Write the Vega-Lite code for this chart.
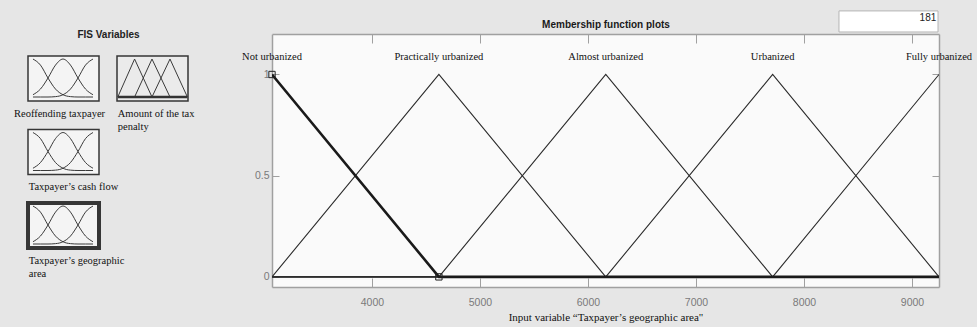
{
  "$schema": "https://vega.github.io/schema/vega-lite/v6.json",
  "background": "#e6e6e6",
  "padding": {"left": 13, "top": 10, "right": 30, "bottom": 10},
  "bounds": "flush",
  "spacing": 244,
  "config": {"view": {"stroke": null}},
  "datasets": {
    "icons": [
      {"icon": "Reoffending taxpayer", "r": 1, "c": 1, "mf": "a", "x": 0, "y": 1}, {"icon": "Reoffending taxpayer", "r": 1, "c": 1, "mf": "a", "x": 0.125, "y": 0.84}, {"icon": "Reoffending taxpayer", "r": 1, "c": 1, "mf": "a", "x": 0.25, "y": 0.5}, {"icon": "Reoffending taxpayer", "r": 1, "c": 1, "mf": "a", "x": 0.375, "y": 0.21}, {"icon": "Reoffending taxpayer", "r": 1, "c": 1, "mf": "a", "x": 0.5, "y": 0.06}, {"icon": "Reoffending taxpayer", "r": 1, "c": 1, "mf": "a", "x": 0.625, "y": 0.01}, {"icon": "Reoffending taxpayer", "r": 1, "c": 1, "mf": "a", "x": 0.75, "y": 0}, {"icon": "Reoffending taxpayer", "r": 1, "c": 1, "mf": "a", "x": 0.875, "y": 0}, {"icon": "Reoffending taxpayer", "r": 1, "c": 1, "mf": "a", "x": 1, "y": 0},
      {"icon": "Reoffending taxpayer", "r": 1, "c": 1, "mf": "b", "x": 0, "y": 0.06}, {"icon": "Reoffending taxpayer", "r": 1, "c": 1, "mf": "b", "x": 0.125, "y": 0.21}, {"icon": "Reoffending taxpayer", "r": 1, "c": 1, "mf": "b", "x": 0.25, "y": 0.5}, {"icon": "Reoffending taxpayer", "r": 1, "c": 1, "mf": "b", "x": 0.375, "y": 0.84}, {"icon": "Reoffending taxpayer", "r": 1, "c": 1, "mf": "b", "x": 0.5, "y": 1}, {"icon": "Reoffending taxpayer", "r": 1, "c": 1, "mf": "b", "x": 0.625, "y": 0.84}, {"icon": "Reoffending taxpayer", "r": 1, "c": 1, "mf": "b", "x": 0.75, "y": 0.5}, {"icon": "Reoffending taxpayer", "r": 1, "c": 1, "mf": "b", "x": 0.875, "y": 0.21}, {"icon": "Reoffending taxpayer", "r": 1, "c": 1, "mf": "b", "x": 1, "y": 0.06},
      {"icon": "Reoffending taxpayer", "r": 1, "c": 1, "mf": "c", "x": 0, "y": 0}, {"icon": "Reoffending taxpayer", "r": 1, "c": 1, "mf": "c", "x": 0.125, "y": 0}, {"icon": "Reoffending taxpayer", "r": 1, "c": 1, "mf": "c", "x": 0.25, "y": 0}, {"icon": "Reoffending taxpayer", "r": 1, "c": 1, "mf": "c", "x": 0.375, "y": 0.01}, {"icon": "Reoffending taxpayer", "r": 1, "c": 1, "mf": "c", "x": 0.5, "y": 0.06}, {"icon": "Reoffending taxpayer", "r": 1, "c": 1, "mf": "c", "x": 0.625, "y": 0.21}, {"icon": "Reoffending taxpayer", "r": 1, "c": 1, "mf": "c", "x": 0.75, "y": 0.5}, {"icon": "Reoffending taxpayer", "r": 1, "c": 1, "mf": "c", "x": 0.875, "y": 0.84}, {"icon": "Reoffending taxpayer", "r": 1, "c": 1, "mf": "c", "x": 1, "y": 1},
      {"icon": "Amount of the tax\npenalty", "r": 1, "c": 2, "mf": "t1", "x": -0.07, "y": 0}, {"icon": "Amount of the tax\npenalty", "r": 1, "c": 2, "mf": "t1", "x": 0.21, "y": 1}, {"icon": "Amount of the tax\npenalty", "r": 1, "c": 2, "mf": "t1", "x": 0.5, "y": 0},
      {"icon": "Amount of the tax\npenalty", "r": 1, "c": 2, "mf": "t2", "x": 0.21, "y": 0}, {"icon": "Amount of the tax\npenalty", "r": 1, "c": 2, "mf": "t2", "x": 0.5, "y": 1}, {"icon": "Amount of the tax\npenalty", "r": 1, "c": 2, "mf": "t2", "x": 0.8, "y": 0},
      {"icon": "Amount of the tax\npenalty", "r": 1, "c": 2, "mf": "t3", "x": 0.5, "y": 0}, {"icon": "Amount of the tax\npenalty", "r": 1, "c": 2, "mf": "t3", "x": 0.8, "y": 1}, {"icon": "Amount of the tax\npenalty", "r": 1, "c": 2, "mf": "t3", "x": 1.09, "y": 0},
      {"icon": "Amount of the tax\npenalty", "r": 1, "c": 2, "mf": "base", "x": -0.07, "y": 0}, {"icon": "Amount of the tax\npenalty", "r": 1, "c": 2, "mf": "base", "x": 1.09, "y": 0},
      {"icon": "Taxpayer’s cash flow", "r": 2, "c": 1, "mf": "a", "x": 0, "y": 1}, {"icon": "Taxpayer’s cash flow", "r": 2, "c": 1, "mf": "a", "x": 0.125, "y": 0.84}, {"icon": "Taxpayer’s cash flow", "r": 2, "c": 1, "mf": "a", "x": 0.25, "y": 0.5}, {"icon": "Taxpayer’s cash flow", "r": 2, "c": 1, "mf": "a", "x": 0.375, "y": 0.21}, {"icon": "Taxpayer’s cash flow", "r": 2, "c": 1, "mf": "a", "x": 0.5, "y": 0.06}, {"icon": "Taxpayer’s cash flow", "r": 2, "c": 1, "mf": "a", "x": 0.625, "y": 0.01}, {"icon": "Taxpayer’s cash flow", "r": 2, "c": 1, "mf": "a", "x": 0.75, "y": 0}, {"icon": "Taxpayer’s cash flow", "r": 2, "c": 1, "mf": "a", "x": 0.875, "y": 0}, {"icon": "Taxpayer’s cash flow", "r": 2, "c": 1, "mf": "a", "x": 1, "y": 0},
      {"icon": "Taxpayer’s cash flow", "r": 2, "c": 1, "mf": "b", "x": 0, "y": 0.06}, {"icon": "Taxpayer’s cash flow", "r": 2, "c": 1, "mf": "b", "x": 0.125, "y": 0.21}, {"icon": "Taxpayer’s cash flow", "r": 2, "c": 1, "mf": "b", "x": 0.25, "y": 0.5}, {"icon": "Taxpayer’s cash flow", "r": 2, "c": 1, "mf": "b", "x": 0.375, "y": 0.84}, {"icon": "Taxpayer’s cash flow", "r": 2, "c": 1, "mf": "b", "x": 0.5, "y": 1}, {"icon": "Taxpayer’s cash flow", "r": 2, "c": 1, "mf": "b", "x": 0.625, "y": 0.84}, {"icon": "Taxpayer’s cash flow", "r": 2, "c": 1, "mf": "b", "x": 0.75, "y": 0.5}, {"icon": "Taxpayer’s cash flow", "r": 2, "c": 1, "mf": "b", "x": 0.875, "y": 0.21}, {"icon": "Taxpayer’s cash flow", "r": 2, "c": 1, "mf": "b", "x": 1, "y": 0.06},
      {"icon": "Taxpayer’s cash flow", "r": 2, "c": 1, "mf": "c", "x": 0, "y": 0}, {"icon": "Taxpayer’s cash flow", "r": 2, "c": 1, "mf": "c", "x": 0.125, "y": 0}, {"icon": "Taxpayer’s cash flow", "r": 2, "c": 1, "mf": "c", "x": 0.25, "y": 0}, {"icon": "Taxpayer’s cash flow", "r": 2, "c": 1, "mf": "c", "x": 0.375, "y": 0.01}, {"icon": "Taxpayer’s cash flow", "r": 2, "c": 1, "mf": "c", "x": 0.5, "y": 0.06}, {"icon": "Taxpayer’s cash flow", "r": 2, "c": 1, "mf": "c", "x": 0.625, "y": 0.21}, {"icon": "Taxpayer’s cash flow", "r": 2, "c": 1, "mf": "c", "x": 0.75, "y": 0.5}, {"icon": "Taxpayer’s cash flow", "r": 2, "c": 1, "mf": "c", "x": 0.875, "y": 0.84}, {"icon": "Taxpayer’s cash flow", "r": 2, "c": 1, "mf": "c", "x": 1, "y": 1},
      {"icon": "Taxpayer’s geographic\narea", "r": 3, "c": 1, "mf": "a", "x": 0, "y": 1}, {"icon": "Taxpayer’s geographic\narea", "r": 3, "c": 1, "mf": "a", "x": 0.125, "y": 0.84}, {"icon": "Taxpayer’s geographic\narea", "r": 3, "c": 1, "mf": "a", "x": 0.25, "y": 0.5}, {"icon": "Taxpayer’s geographic\narea", "r": 3, "c": 1, "mf": "a", "x": 0.375, "y": 0.21}, {"icon": "Taxpayer’s geographic\narea", "r": 3, "c": 1, "mf": "a", "x": 0.5, "y": 0.06}, {"icon": "Taxpayer’s geographic\narea", "r": 3, "c": 1, "mf": "a", "x": 0.625, "y": 0.01}, {"icon": "Taxpayer’s geographic\narea", "r": 3, "c": 1, "mf": "a", "x": 0.75, "y": 0}, {"icon": "Taxpayer’s geographic\narea", "r": 3, "c": 1, "mf": "a", "x": 0.875, "y": 0}, {"icon": "Taxpayer’s geographic\narea", "r": 3, "c": 1, "mf": "a", "x": 1, "y": 0},
      {"icon": "Taxpayer’s geographic\narea", "r": 3, "c": 1, "mf": "b", "x": 0, "y": 0.06}, {"icon": "Taxpayer’s geographic\narea", "r": 3, "c": 1, "mf": "b", "x": 0.125, "y": 0.21}, {"icon": "Taxpayer’s geographic\narea", "r": 3, "c": 1, "mf": "b", "x": 0.25, "y": 0.5}, {"icon": "Taxpayer’s geographic\narea", "r": 3, "c": 1, "mf": "b", "x": 0.375, "y": 0.84}, {"icon": "Taxpayer’s geographic\narea", "r": 3, "c": 1, "mf": "b", "x": 0.5, "y": 1}, {"icon": "Taxpayer’s geographic\narea", "r": 3, "c": 1, "mf": "b", "x": 0.625, "y": 0.84}, {"icon": "Taxpayer’s geographic\narea", "r": 3, "c": 1, "mf": "b", "x": 0.75, "y": 0.5}, {"icon": "Taxpayer’s geographic\narea", "r": 3, "c": 1, "mf": "b", "x": 0.875, "y": 0.21}, {"icon": "Taxpayer’s geographic\narea", "r": 3, "c": 1, "mf": "b", "x": 1, "y": 0.06},
      {"icon": "Taxpayer’s geographic\narea", "r": 3, "c": 1, "mf": "c", "x": 0, "y": 0}, {"icon": "Taxpayer’s geographic\narea", "r": 3, "c": 1, "mf": "c", "x": 0.125, "y": 0}, {"icon": "Taxpayer’s geographic\narea", "r": 3, "c": 1, "mf": "c", "x": 0.25, "y": 0}, {"icon": "Taxpayer’s geographic\narea", "r": 3, "c": 1, "mf": "c", "x": 0.375, "y": 0.01}, {"icon": "Taxpayer’s geographic\narea", "r": 3, "c": 1, "mf": "c", "x": 0.5, "y": 0.06}, {"icon": "Taxpayer’s geographic\narea", "r": 3, "c": 1, "mf": "c", "x": 0.625, "y": 0.21}, {"icon": "Taxpayer’s geographic\narea", "r": 3, "c": 1, "mf": "c", "x": 0.75, "y": 0.5}, {"icon": "Taxpayer’s geographic\narea", "r": 3, "c": 1, "mf": "c", "x": 0.875, "y": 0.84}, {"icon": "Taxpayer’s geographic\narea", "r": 3, "c": 1, "mf": "c", "x": 1, "y": 1}
    ],
    "mfs": [
      {"mf": "Not urbanized", "x": 3075, "y": 1}, {"mf": "Not urbanized", "x": 4620, "y": 0}, {"mf": "Not urbanized", "x": 9250, "y": 0},
      {"mf": "Practically urbanized", "x": 3075, "y": 0}, {"mf": "Practically urbanized", "x": 4620, "y": 1}, {"mf": "Practically urbanized", "x": 6165, "y": 0}, {"mf": "Practically urbanized", "x": 9250, "y": 0},
      {"mf": "Almost urbanized", "x": 3075, "y": 0}, {"mf": "Almost urbanized", "x": 4620, "y": 0}, {"mf": "Almost urbanized", "x": 6165, "y": 1}, {"mf": "Almost urbanized", "x": 7710, "y": 0}, {"mf": "Almost urbanized", "x": 9250, "y": 0},
      {"mf": "Urbanized", "x": 3075, "y": 0}, {"mf": "Urbanized", "x": 6165, "y": 0}, {"mf": "Urbanized", "x": 7710, "y": 1}, {"mf": "Urbanized", "x": 9250, "y": 0},
      {"mf": "Fully urbanized", "x": 3075, "y": 0}, {"mf": "Fully urbanized", "x": 7710, "y": 0}, {"mf": "Fully urbanized", "x": 9250, "y": 1}
    ],
    "labels": [
      {"label": "Not urbanized", "x": 3075},
      {"label": "Practically urbanized", "x": 4620},
      {"label": "Almost urbanized", "x": 6165},
      {"label": "Urbanized", "x": 7710},
      {"label": "Fully urbanized", "x": 9250}
    ]
  },
  "hconcat": [
    {
      "bounds": "flush",
      "spacing": 10,
      "vconcat": [
        {
          "width": 161, "height": 12,
          "data": {"values": [{"t": "FIS Variables"}]},
          "mark": {"type": "text", "font": "Liberation Sans", "fontWeight": "bold", "fontSize": 10, "color": "#222222", "baseline": "bottom", "align": "center"},
          "encoding": {"text": {"field": "t"}}
        },
        {
          "data": {"name": "icons"},
          "bounds": "flush",
          "spacing": {"row": 28.5, "column": 18},
          "facet": {
            "row": {"field": "r", "type": "ordinal", "header": null},
            "column": {"field": "c", "type": "ordinal", "header": null}
          },
          "spec": {
            "width": 71, "height": 45,
            "layer": [
              {
                "transform": [{"aggregate": [{"op": "count", "as": "n"}], "groupby": ["icon", "r", "c"]}],
                "mark": {"type": "rect", "stroke": "#363636"},
                "encoding": {
                  "x": {"datum": -0.083, "type": "quantitative", "scale": {"domain": [-0.083, 1.1], "nice": false, "zero": false}, "axis": null},
                  "x2": {"datum": 1.1},
                  "y": {"datum": -0.105, "type": "quantitative", "scale": {"domain": [-0.105, 1.08], "nice": false, "zero": false}, "axis": null},
                  "y2": {"datum": 1.08},
                  "fill": {"condition": {"test": "datum.c == 2", "value": "#ebebeb"}, "value": "#f4f4f4"},
                  "strokeWidth": {"condition": {"test": "datum.r == 3", "value": 4}, "value": 1.5}
                }
              },
              {
                "transform": [{"filter": "datum.c == 1"}],
                "mark": {"type": "line", "interpolate": "monotone", "color": "#3a3a3a", "strokeWidth": 1},
                "encoding": {
                  "x": {"field": "x", "type": "quantitative", "axis": null},
                  "y": {"field": "y", "type": "quantitative", "axis": null},
                  "detail": {"field": "mf"}
                }
              },
              {
                "transform": [{"filter": "datum.c == 2 && datum.mf != 'base'"}],
                "mark": {"type": "line", "color": "#3a3a3a", "strokeWidth": 1},
                "encoding": {
                  "x": {"field": "x", "type": "quantitative", "axis": null},
                  "y": {"field": "y", "type": "quantitative", "axis": null},
                  "detail": {"field": "mf"}
                }
              },
              {
                "transform": [{"filter": "datum.mf == 'base'"}],
                "mark": {"type": "line", "color": "#333333", "strokeWidth": 2.5},
                "encoding": {
                  "x": {"field": "x", "type": "quantitative", "axis": null},
                  "y": {"field": "y", "type": "quantitative", "axis": null}
                }
              },
              {
                "transform": [{"filter": "datum.r == 1 && datum.c == 1"}, {"aggregate": [{"op": "count", "as": "n"}], "groupby": ["icon", "r", "c"]}],
                "mark": {"type": "text", "font": "Liberation Serif", "fontSize": 10.5, "color": "#111111", "baseline": "top", "align": "center", "dx": -4, "lineBreak": "\n", "lineHeight": 13},
                "encoding": {
                  "y": {"datum": -0.31, "type": "quantitative", "axis": null},
                  "text": {"field": "icon"}
                }
              },
              {
                "transform": [{"filter": "!(datum.r == 1 && datum.c == 1)"}, {"aggregate": [{"op": "count", "as": "n"}], "groupby": ["icon", "r", "c"]}],
                "mark": {"type": "text", "font": "Liberation Serif", "fontSize": 10.5, "color": "#111111", "baseline": "top", "align": "left", "lineBreak": "\n", "lineHeight": 13},
                "encoding": {
                  "x": {"datum": -0.07, "type": "quantitative", "axis": null},
                  "y": {"datum": -0.31, "type": "quantitative", "axis": null},
                  "text": {"field": "icon"}
                }
              }
            ]
          }
        }
      ]
    },
    {
      "width": 667, "height": 253,
      "view": {"fill": "#fafafa", "stroke": null},
      "resolve": {"axis": {"x": "independent", "y": "independent"}},
      "layer": [
        {
          "data": {"name": "mfs"},
          "transform": [{"filter": "datum.mf != 'Not urbanized'"}],
          "mark": {"type": "line", "color": "#2b2b2b", "strokeWidth": 1.1, "clip": true},
          "encoding": {
            "x": {"field": "x", "type": "quantitative", "scale": {"domain": [3075, 9250], "nice": false, "zero": false},
              "axis": {"orient": "bottom", "values": [4000, 5000, 6000, 7000, 8000, 9000], "format": "d", "grid": false, "tickSize": -9, "tickColor": "#a0a0a0", "tickWidth": 1, "labelPadding": 19, "labelColor": "#7a7a7a", "labelFont": "Liberation Sans", "labelFontSize": 10.5, "domainColor": "#a0a0a0", "domainWidth": 1.5,
                "title": "Input variable “Taxpayer’s geographic area\"", "titleFont": "Liberation Serif", "titleFontSize": 11, "titleFontWeight": "normal", "titleColor": "#111111", "titlePadding": 4}},
            "y": {"field": "y", "type": "quantitative", "scale": {"domain": [-0.05, 1.2], "nice": false, "zero": false},
              "axis": {"orient": "left", "values": [0, 0.5, 1], "format": "~g", "grid": false, "tickSize": -7, "tickColor": "#a0a0a0", "tickWidth": 1, "labelPadding": 10, "labelColor": "#7a7a7a", "labelFont": "Liberation Sans", "labelFontSize": 10.5, "domainColor": "#a0a0a0", "domainWidth": 1.5, "title": null}},
            "detail": {"field": "mf"}
          }
        },
        {
          "data": {"name": "mfs"},
          "transform": [{"filter": "datum.mf == 'Not urbanized'"}],
          "mark": {"type": "line", "color": "#1a1a1a", "strokeWidth": 2.6, "clip": true},
          "encoding": {
            "x": {"field": "x", "type": "quantitative",
              "axis": {"orient": "top", "values": [4000, 5000, 6000, 7000, 8000, 9000], "labels": false, "grid": false, "tickSize": -9, "tickColor": "#a0a0a0", "tickWidth": 1, "domainColor": "#a0a0a0", "domainWidth": 1.5,
                "title": "Membership function plots", "titleFont": "Liberation Sans", "titleFontSize": 10, "titleFontWeight": "bold", "titleColor": "#1a1a1a", "titlePadding": 4}},
            "y": {"field": "y", "type": "quantitative",
              "axis": {"orient": "right", "values": [0, 0.5, 1], "labels": false, "grid": false, "tickSize": -7, "tickColor": "#a0a0a0", "tickWidth": 1, "domainColor": "#a0a0a0", "domainWidth": 1.5, "title": null}}
          }
        },
        {
          "data": {"values": [{"x": 3075, "y": 1}, {"x": 4620, "y": 0}]},
          "mark": {"type": "point", "shape": "square", "filled": false, "size": 40, "color": "#222222", "strokeWidth": 1, "opacity": 1},
          "encoding": {
            "x": {"field": "x", "type": "quantitative", "axis": null},
            "y": {"field": "y", "type": "quantitative", "axis": null}
          }
        },
        {
          "data": {"name": "labels"},
          "mark": {"type": "text", "font": "Liberation Serif", "fontSize": 10.5, "color": "#111111", "baseline": "middle", "align": "center"},
          "encoding": {
            "x": {"field": "x", "type": "quantitative", "axis": null},
            "y": {"datum": 1.085, "type": "quantitative", "axis": null},
            "text": {"field": "label"}
          }
        },
        {
          "data": {"values": [{"v": "181"}]},
          "layer": [
            {
              "mark": {"type": "rect", "fill": "#ffffff", "stroke": "#b5b5b5", "strokeWidth": 1},
              "encoding": {
                "x": {"datum": 8324, "type": "quantitative", "axis": null},
                "x2": {"datum": 9241},
                "y": {"datum": 1.314, "type": "quantitative", "axis": null},
                "y2": {"datum": 1.21}
              }
            },
            {
              "mark": {"type": "text", "font": "Liberation Sans", "fontSize": 10, "color": "#222222", "align": "right", "baseline": "middle"},
              "encoding": {
                "x": {"datum": 9225, "type": "quantitative", "axis": null},
                "y": {"datum": 1.28, "type": "quantitative", "axis": null},
                "text": {"field": "v"}
              }
            }
          ]
        }
      ]
    }
  ]
}
